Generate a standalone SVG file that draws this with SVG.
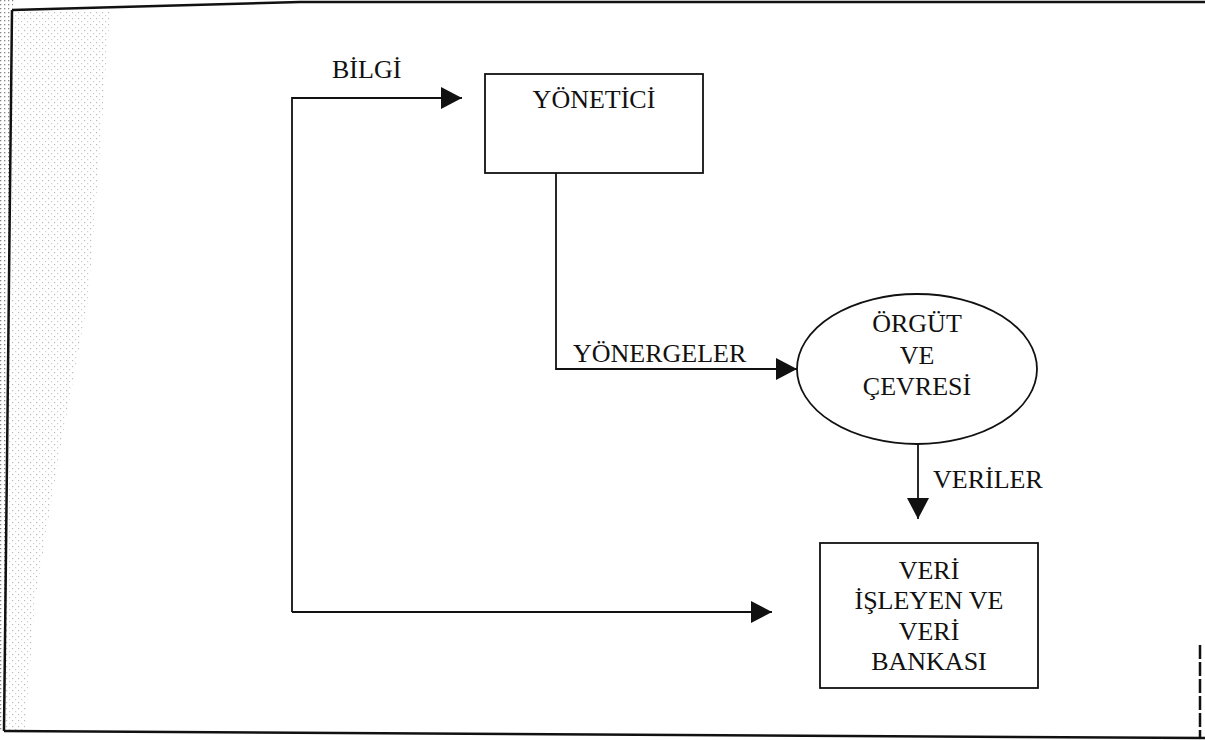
<svg xmlns="http://www.w3.org/2000/svg" width="1205" height="740" viewBox="0 0 1205 740">
  <style>
    .lbl { font-family: "Liberation Serif", "Times New Roman", serif; font-size: 26px; fill: #111; }
    .mid { text-anchor: middle; }
    .shape { fill: #fff; stroke: #111; stroke-width: 1.8; }
    .conn { fill: none; stroke: #111; stroke-width: 1.8; }
    .frame { fill: none; stroke: #111; stroke-width: 2.5; }
  </style>
  <defs>
    <marker id="arrow" viewBox="0 0 21 22" refX="21" refY="11" markerWidth="21" markerHeight="22" markerUnits="userSpaceOnUse" orient="auto">
      <path d="M0,0 L21,11 L0,22 Z" fill="#111"/>
    </marker>
    <pattern id="dots" width="4" height="4" patternUnits="userSpaceOnUse">
      <rect x="0" y="0" width="1.3" height="1.3" fill="#888"/>
    </pattern>
    <pattern id="dotsLight" width="6" height="6" patternUnits="userSpaceOnUse">
      <rect x="0" y="0" width="1.2" height="1.2" fill="#bbb"/>
      <rect x="3" y="3" width="1.2" height="1.2" fill="#ccc"/>
    </pattern>
  </defs>
  <rect x="0" y="0" width="1205" height="740" fill="#fff"/>

  <!-- scan shading along left edge -->
  <g id="shading">
    <path d="M0,0 L14,0 L12,10 L4,731 L0,731 Z" fill="url(#dots)"/>
    <path d="M12,10 L110,12 L100,150 L88,300 L60,450 L35,600 L25,731 L4,731 Z" fill="url(#dotsLight)"/>
  </g>

  <!-- frame -->
  <g id="frame">
    <polyline class="frame" points="12,10 300,2 1205,2"/>
    <line class="frame" x1="12" y1="10" x2="4" y2="731"/>
    <line class="frame" x1="4" y1="731" x2="1205" y2="738"/>
    <line class="frame" x1="1200" y1="645" x2="1200" y2="738" stroke-dasharray="14 3"/>
  </g>

  <g id="connectors">
    <path class="conn" d="M292,612 V98 H462" marker-end="url(#arrow)"/>
    <path class="conn" d="M292,612 H772" marker-end="url(#arrow)"/>
    <path class="conn" d="M556,173 V369 H797" marker-end="url(#arrow)"/>
    <path class="conn" d="M918,444 V519" marker-end="url(#arrow)"/>
    <text class="lbl" x="332" y="78">BİLGİ</text>
    <text class="lbl" x="573" y="362">YÖNERGELER</text>
    <text class="lbl" x="933" y="488">VERİLER</text>
  </g>

  <g id="yonetici">
    <rect class="shape" x="485" y="74" width="218" height="99"/>
    <text class="lbl mid" x="594" y="108">YÖNETİCİ</text>
  </g>

  <g id="orgut">
    <ellipse class="shape" cx="917" cy="369" rx="120" ry="75"/>
    <text class="lbl mid" x="917" y="332">ÖRGÜT</text>
    <text class="lbl mid" x="917" y="364">VE</text>
    <text class="lbl mid" x="917" y="395">ÇEVRESİ</text>
  </g>

  <g id="veri">
    <rect class="shape" x="820" y="543" width="218" height="145"/>
    <text class="lbl mid" x="929" y="579">VERİ</text>
    <text class="lbl mid" x="929" y="609">İŞLEYEN VE</text>
    <text class="lbl mid" x="929" y="640">VERİ</text>
    <text class="lbl mid" x="929" y="670">BANKASI</text>
  </g>
</svg>
